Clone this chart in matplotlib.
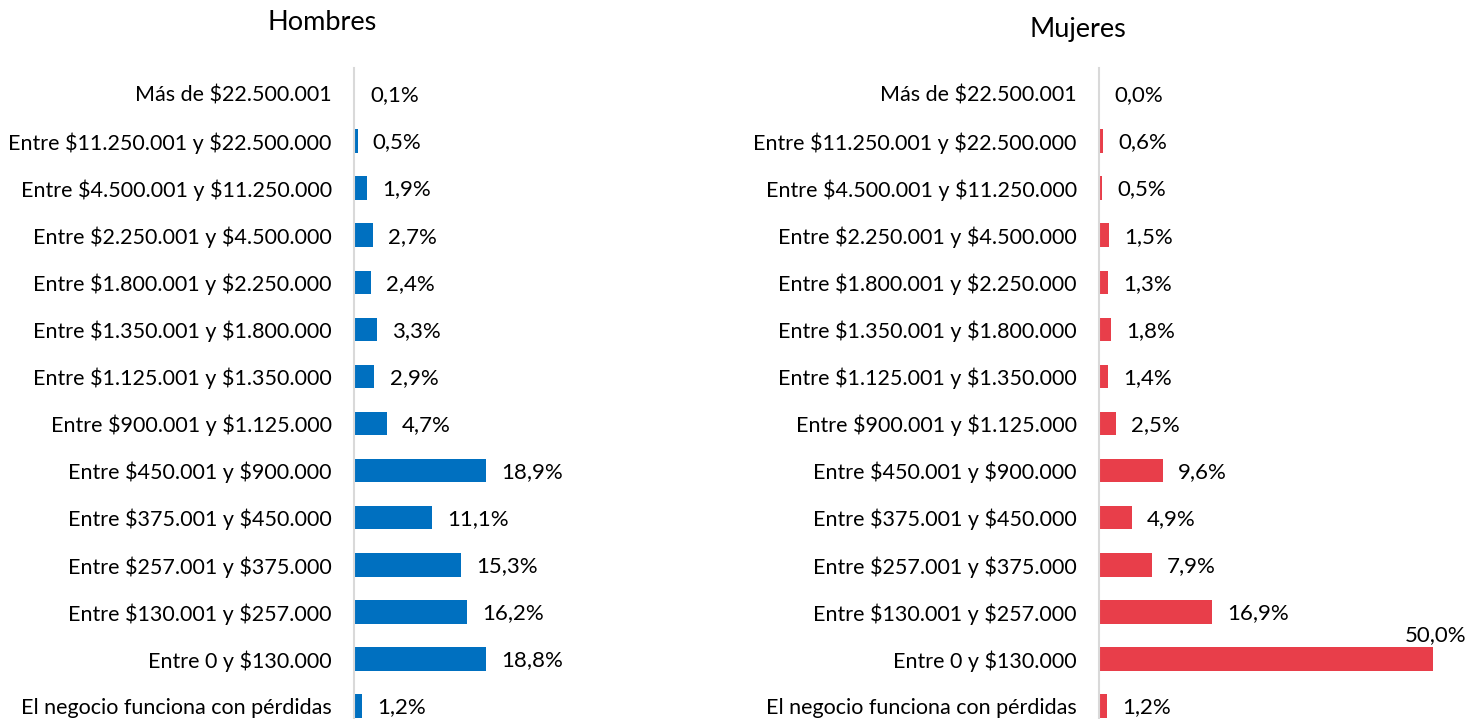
import numpy as np
import matplotlib.pyplot as plt

categorias = ['Más de $22.500.001',
              'Entre $11.250.001 y $22.500.000',
              'Entre $4.500.001 y $11.250.000',
              'Entre $2.250.001 y $4.500.000',
              'Entre $1.800.001 y $2.250.000',
              'Entre $1.350.001 y $1.800.000',
              'Entre $1.125.001 y $1.350.000',
              'Entre $900.001 y $1.125.000',
              'Entre $450.001 y $900.000',
              'Entre $375.001 y $450.000',
              'Entre $257.001 y $375.000',
              'Entre $130.001 y $257.000',
              'Entre 0 y $130.000',
              'El negocio funciona con pérdidas']
hombres = [0.1, 0.5, 1.9, 2.7, 2.4, 3.3, 2.9, 4.7, 18.9, 11.1, 15.3, 16.2, 18.8, 1.2]
mujeres = [0.0, 0.6, 0.5, 1.5, 1.3, 1.8, 1.4, 2.5, 9.6, 4.9, 7.9, 16.9, 50.0, 1.2]

plt.rcParams['font.family'] = ['Lato', 'DejaVu Sans']
plt.rcParams['text.parse_math'] = False
W, H = 1483, 719
fig = plt.figure(figsize=(W / 100, H / 100), dpi=100)


def panel(x0, x1, values, color, xmax):
    ax = fig.add_axes([x0 / W, 0, (x1 - x0) / W, (H - 68) / H])
    y = np.arange(len(categorias))[::-1]
    ax.barh(y, values, height=0.5, color=color)
    ax.set_xlim(0, xmax)
    ax.set_ylim(-0.276, len(categorias) - 1 + 0.552)
    ax.set_yticks(y)
    ax.set_yticklabels(categorias, fontsize=15.5)
    ax.tick_params(axis='y', length=0, pad=16)
    ax.set_xticks([])
    for s in ['top', 'right', 'bottom']:
        ax.spines[s].set_visible(False)
    ax.spines['left'].set_color('#d9d9d9')
    ax.spines['left'].set_linewidth(1.5)
    for yi, v in zip(y, values):
        lab = ('%.1f%%' % v).replace('.', ',')
        if v >= 40:
            ax.annotate(lab, (v, yi), xytext=(2, 10), textcoords='offset points',
                        ha='center', va='bottom', fontsize=16)
        else:
            ax.annotate(lab, (v, yi), xytext=(11, -1), textcoords='offset points',
                        ha='left', va='center', fontsize=16)
    return ax


panel(354, 354 + 175, hombres, '#0070c0', 25)
panel(1099, 1099 + 367, mujeres, '#e83e4a', 55)

fig.text(322 / W, 1 - 22 / H, 'Hombres', ha='center', va='center', fontsize=19.5)
fig.text(1078 / W, 1 - 29 / H, 'Mujeres', ha='center', va='center', fontsize=19.5)

fig.savefig('out.png', dpi=100)
